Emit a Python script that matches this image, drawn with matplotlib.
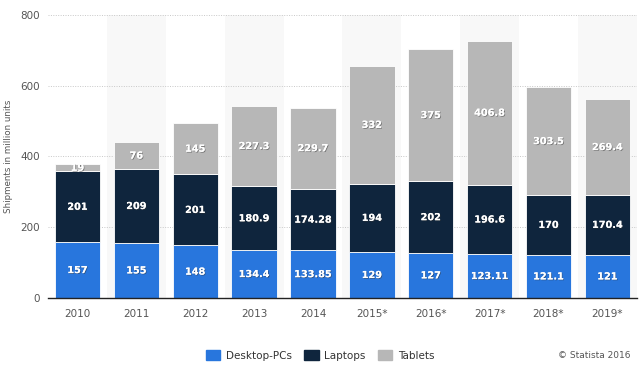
import matplotlib
matplotlib.use("Agg")
import matplotlib.pyplot as plt
import matplotlib.patheffects as pe
from matplotlib.patches import Patch
import numpy as np

years = ["2010", "2011", "2012", "2013", "2014", "2015*", "2016*", "2017*", "2018*", "2019*"]
desktops = [157, 155, 148, 134.4, 133.85, 129, 127, 123.11, 121.1, 121]
laptops = [201, 209, 201, 180.9, 174.28, 194, 202, 196.6, 170, 170.4]
tablets = [19, 76, 145, 227.3, 229.7, 332, 375, 406.8, 303.5, 269.4]

desktop_labels = ["157", "155", "148", "134.4", "133.85", "129", "127", "123.11", "121.1", "121"]
laptop_labels = ["201", "209", "201", "180.9", "174.28", "194", "202", "196.6", "170", "170.4"]
tablet_labels = ["19", "76", "145", "227.3", "229.7", "332", "375", "406.8", "303.5", "269.4"]

c_desk = "#2876dd"
c_lap = "#0f253d"
c_tab = "#b7b7b7"

fig = plt.figure(figsize=(6.4, 3.7), dpi=100)
ax = fig.add_axes([0.075, 0.195, 0.92, 0.765])

x = np.arange(len(years))
# alternating background bands
for i in x:
    if i % 2 == 1:
        ax.axvspan(i - 0.5, i + 0.5, color="#f8f8f8", zorder=0, lw=0)

ax.set_axisbelow(True)
ax.yaxis.grid(True, linestyle=(0, (1, 1.5)), color="#c8c8c8", linewidth=0.7)

w = 0.77
bottom2 = np.array(desktops)
bottom3 = bottom2 + np.array(laptops)
ax.bar(x, desktops, w, color=c_desk, edgecolor="white", linewidth=0.6, zorder=2)
ax.bar(x, laptops, w, bottom=bottom2, color=c_lap, edgecolor="white", linewidth=0.6, zorder=2)
ax.bar(x, tablets, w, bottom=bottom3, color=c_tab, edgecolor="white", linewidth=0.6, zorder=2)

shadow = [pe.withSimplePatchShadow(offset=(0.6, -0.6), shadow_rgbFace="#333333", alpha=0.5), pe.Normal()]
for i in x:
    for base, val, lab in [(0, desktops[i], desktop_labels[i]),
                           (bottom2[i], laptops[i], laptop_labels[i]),
                           (bottom3[i], tablets[i], tablet_labels[i])]:
        ax.text(i, base + val / 2, lab, ha="center", va="center", color="white",
                fontsize=7, fontweight="bold", zorder=3, path_effects=shadow)

ax.set_xlim(-0.5, len(years) - 0.5)
ax.set_ylim(0, 800)
ax.set_yticks([0, 200, 400, 600, 800])
ax.set_xticks(x)
ax.set_xticklabels(years)
ax.tick_params(axis="both", length=0, labelsize=7.5, colors="#555555")
ax.tick_params(axis="x", pad=8)
ax.tick_params(axis="y", pad=6)
for s in ["top", "right", "left"]:
    ax.spines[s].set_visible(False)
ax.spines["bottom"].set_color("#222222")
ax.spines["bottom"].set_linewidth(1)
ax.set_ylabel("Shipments in million units", fontsize=6.3, color="#555555", labelpad=5)

handles = [Patch(color=c_desk, label="Desktop-PCs"),
           Patch(color=c_lap, label="Laptops"),
           Patch(color=c_tab, label="Tablets")]
fig.legend(handles=handles, loc="center", bbox_to_anchor=(0.5, 0.04), ncol=3, frameon=False,
           fontsize=7.5, handlelength=1.4, handleheight=1.2, columnspacing=1.2,
           handletextpad=0.5, labelcolor="#333333")
fig.text(0.985, 0.04, "© Statista 2016", ha="right", va="center", fontsize=6.5, color="#555555")

fig.savefig("out.png", dpi=100)
